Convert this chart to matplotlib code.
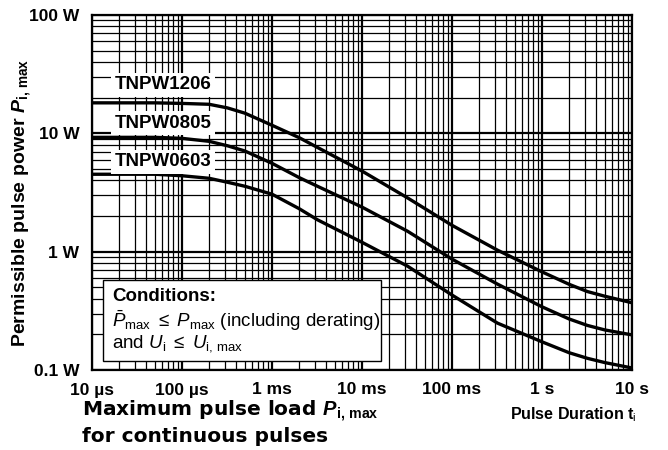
import matplotlib
matplotlib.use("Agg")
from matplotlib import pyplot as plt
from matplotlib.ticker import LogLocator, NullFormatter, FixedLocator, FixedFormatter
from matplotlib.patches import Rectangle

# pulse duration in seconds, power in W
pulse_time = [1e-5, 3.2e-5, 5e-5, 1e-4, 2e-4, 3.2e-4, 5e-4, 1e-3, 2e-3, 3.2e-3,
              1e-2, 3.2e-2, 1e-1, 3.2e-1, 1, 2, 3.2, 5, 10]
p_1206 = [18.1, 18.1, 18.1, 17.9, 17.6, 16.4, 14.8, 11.7, 9.2, 7.6,
          4.8, 2.85, 1.67, 1.03, 0.675, 0.53, 0.46, 0.42, 0.37]
p_0805 = [9.25, 9.25, 9.25, 9.07, 8.56, 7.85, 7.09, 5.58, 4.23, 3.57,
          2.38, 1.49, 0.865, 0.532, 0.342, 0.27, 0.238, 0.218, 0.198]
p_0603 = [4.51, 4.51, 4.51, 4.38, 4.17, 3.86, 3.57, 3.06, 2.31, 1.86,
          1.2, 0.755, 0.43, 0.249, 0.173, 0.14, 0.1255, 0.1155, 0.104]

series_names = ["TNPW1206", "TNPW0805", "TNPW0603"]
label_y = [23.5, 11.2, 5.27]   # W, baseline of the name boxes
label_x = 1.8e-5

x_ticks = [1e-5, 1e-4, 1e-3, 1e-2, 1e-1, 1, 10]
x_ticklabels = ["10 µs", "100 µs", "1 ms", "10 ms", "100 ms", "1 s", "10 s"]
y_ticks = [0.1, 1, 10, 100]
y_ticklabels = ["0.1 W", "1 W", "10 W", "100 W"]

plt.rcParams['font.family'] = ['Liberation Sans', 'DejaVu Sans']
plt.rcParams['mathtext.fontset'] = 'custom'
plt.rcParams['mathtext.rm'] = 'Liberation Sans'
plt.rcParams['mathtext.it'] = 'Liberation Sans:italic'
plt.rcParams['mathtext.bf'] = 'Liberation Sans:bold'
plt.rcParams['mathtext.bfit'] = 'Liberation Sans:italic:bold'

fig = plt.figure(figsize=(6.68, 4.5), dpi=100, facecolor="white")
ax = fig.add_axes([92/668, 80/450, 540/668, 355/450])
ax.set_xscale("log")
ax.set_yscale("log")
ax.set_xlim(1e-5, 10)
ax.set_ylim(0.1, 100)

ax.xaxis.set_major_locator(FixedLocator(x_ticks))
ax.xaxis.set_major_formatter(FixedFormatter(x_ticklabels))
ax.yaxis.set_major_locator(FixedLocator(y_ticks))
ax.yaxis.set_major_formatter(FixedFormatter(y_ticklabels))
for axis in (ax.xaxis, ax.yaxis):
    axis.set_minor_locator(LogLocator(base=10, subs=range(2, 10), numticks=20))
    axis.set_minor_formatter(NullFormatter())

ax.tick_params(which="both", length=0)
ax.tick_params(axis="x", pad=9, labelsize=12.5)
ax.tick_params(axis="y", pad=9, labelsize=12.5)
for lab in ax.get_xticklabels() + ax.get_yticklabels():
    lab.set_fontweight("bold")

ax.set_axisbelow(True)
ax.grid(True, which="major", color="black", linewidth=1.6)
ax.grid(True, which="minor", color="black", linewidth=0.9)
for s in ax.spines.values():
    s.set_linewidth(1.6)

for p in (p_1206, p_0805, p_0603):
    ax.plot(pulse_time, p, color="black", linewidth=2.4, solid_capstyle="butt",
            solid_joinstyle="round", zorder=3)

for name, yv in zip(series_names, label_y):
    ax.text(label_x, yv, name, fontsize=13.5, fontweight="bold", va="baseline", ha="left",
            zorder=5, bbox=dict(facecolor="white", edgecolor="none", pad=2.5))

# conditions box
ax.add_patch(Rectangle((0.0204, 0.025), 0.5145, 0.2285, transform=ax.transAxes,
                       facecolor="white", edgecolor="black", linewidth=1.0, zorder=4))
ax.text(0.037, 0.194, "Conditions:", transform=ax.transAxes, fontsize=13.5,
        fontweight="bold", va="baseline", zorder=5)
ax.text(0.037, 0.122, r"$\bar{P}_{\rm max}\ \leq\ P_{\rm max}$ (including derating)",
        transform=ax.transAxes, fontsize=13.5, va="baseline", zorder=5)
ax.text(0.037, 0.063, r"and $U_{\rm i}\ \leq\ U_{\rm i,\,max}$",
        transform=ax.transAxes, fontsize=13.5, va="baseline", zorder=5)

ax.set_ylabel(r"Permissible pulse power $\mathbfit{P}_{\mathbf{i,\,max}}$",
              fontsize=14, fontweight="bold")
ax.yaxis.set_label_coords(-0.109, 0.472)
ax.text(1.008, -0.14, r"Pulse Duration t$_{\rm i}$", transform=ax.transAxes,
        fontsize=11.5, fontweight="bold", ha="right", va="baseline")

fig.text(82/668, 1 - 416/450, r"Maximum pulse load $\mathbfit{P}_{\mathbf{i,\,max}}$",
         fontsize=14.5, fontfamily="DejaVu Sans", fontweight="bold", va="baseline")
fig.text(82/668, 1 - 442/450, "for continuous pulses",
         fontsize=14.5, fontfamily="DejaVu Sans", fontweight="bold", va="baseline")

fig.savefig("out.png", dpi=100, facecolor="white")
